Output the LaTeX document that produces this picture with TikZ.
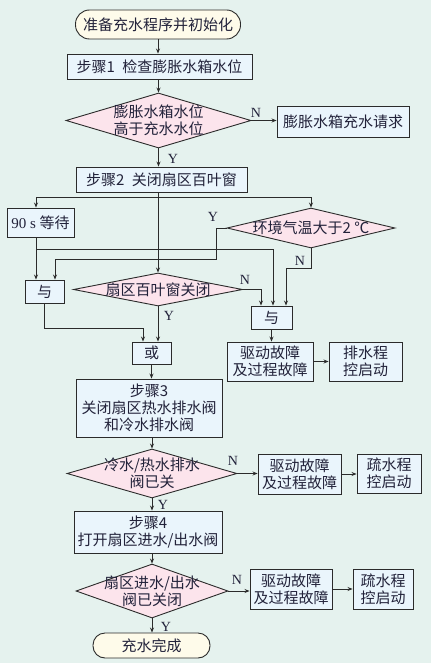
\documentclass[tikz,border=0pt]{standalone}
\usepackage{fontspec}
\setmainfont{Liberation Serif}
\newfontfamily\cjk{Noto Sans CJK SC}
\usetikzlibrary{arrows.meta,shapes.geometric}
\definecolor{pagebg}{HTML}{E5F2EE}
\definecolor{boxbg}{HTML}{EAF5FC}
\definecolor{diabg}{HTML}{FCE4EC}
\definecolor{termbg}{HTML}{FEFBEA}
\definecolor{inkline}{HTML}{2B2B2B}
\definecolor{inktext}{HTML}{22223A}

\begin{document}
\begin{tikzpicture}[x=1pt,y=-1pt,
      box/.style={draw=inkline,fill=boxbg,line width=0.9pt,inner sep=0pt,align=center,
                  text=inktext,font=\cjk\fontsize{15}{17}\selectfont},
      dia/.style={diamond,draw=inkline,fill=diabg,line width=0.9pt,inner sep=0pt},
      txt/.style={align=center,text=inktext,font=\cjk\fontsize{15}{17}\selectfont},
      term/.style={draw=inkline,fill=termbg,line width=0.9pt,inner sep=0pt,
                   text=inktext,font=\cjk\fontsize{15}{17}\selectfont},
      yn/.style={text=inktext,font=\fontsize{14}{14}\selectfont},
      arr/.style={draw=inkline,line width=0.8pt,-{Stealth[length=5pt,width=4pt]}},
      lin/.style={draw=inkline,line width=0.8pt}]
    \fill[pagebg] (0,0) rectangle (431,663);
    \useasboundingbox (0,0) rectangle (431,663);
    % upper part
    \node[term,rounded corners=14pt,minimum width=165,minimum height=29] (start) at (158,24.5) {准备充水程序并初始化};
    \node[box,minimum width=185,minimum height=25] (s1) at (159.5,66.5) {步骤1\enspace 检查膨胀水箱水位};
    \node[dia,minimum width=185,minimum height=55] (d1) at (158.5,120.5) {};
    \node[txt] (d1t) at (d1) {膨胀水箱水位\\高于充水水位};
    \node[box,minimum width=132,minimum height=31] (req) at (343,121.5) {膨胀水箱充水请求};
    \node[box,minimum width=171,minimum height=25] (s2) at (161.5,179.5) {步骤2\enspace 关闭扇区百叶窗};
    % louver check
    \node[box,minimum width=67,minimum height=29] (wait) at (40.5,222.5) {{\rmfamily 90 s }等待};
    \node[dia,minimum width=168,minimum height=40] (d2) at (311,228) {};
    \node[txt] (d2t) at (d2) {环境气温大于2 ℃};
    \node[box,minimum width=39,minimum height=23] (and1) at (44.5,291.5) {与};
    \node[dia,minimum width=169,minimum height=33] (d5) at (158,289.5) {};
    \node[txt] (d5t) at (d5) {扇区百叶窗关闭};
    \node[box,minimum width=41,minimum height=23] (and2) at (271.5,317.5) {与};
    \node[box,minimum width=39,minimum height=22] (or) at (151.5,353) {或};
    \node[box,minimum width=86,minimum height=39] (f1) at (270,361.5) {驱动故障\\及过程故障};
    \node[box,minimum width=73,minimum height=39] (p1) at (365.5,361.5) {排水程\\控启动};
    % lower part
    \node[box,minimum width=146,minimum height=58] (s3) at (149,408) {步骤3\\关闭扇区热水排水阀\\和冷水排水阀};
    \node[dia,minimum width=170,minimum height=49] (d3) at (152,473.5) {};
    \node[txt] (d3t) at (d3) {冷水/热水排水\\阀已关};
    \node[box,minimum width=83,minimum height=40] (f2) at (299.5,474) {驱动故障\\及过程故障};
    \node[box,minimum width=64,minimum height=39] (p2) at (389,473.5) {疏水程\\控启动};
    \node[box,minimum width=148,minimum height=42] (s4) at (148,532) {步骤4\\打开扇区进水/出水阀};
    \node[dia,minimum width=152,minimum height=54] (d4) at (152,591) {};
    \node[txt] (d4t) at (d4) {扇区进水/出水\\阀已关闭};
    \node[box,minimum width=82,minimum height=40] (f3) at (291,589) {驱动故障\\及过程故障};
    \node[box,minimum width=60,minimum height=40] (p3) at (383,589) {疏水程\\控启动};
    \node[term,rounded corners=12pt,minimum width=117,minimum height=25] (end) at (151.5,645.5) {充水完成};
    % Y / N marks
    \foreach \m/\x/\y/\t in {n1/256/113/N,y1/173/159/Y,y2/213/217/Y,n2/300/261/N,n3/245/280/N,
                             y3/169/316/Y,n4/233/461/N,y4/163/505/Y,n5/237/580/N,y5/166/627/Y}
      \node[yn] (\m) at (\x,\y) {\t};
    % connectors
    \coordinate (fork) at (158,197);
    \coordinate (ybend) at (216,259);
    \coordinate (wb) at (36,249);
    \coordinate (nb) at (286,268);
    \coordinate (ab) at (143,328);
    \draw[arr] (start.south) -- (start.south |- s1.north);
    \draw[arr] (d1.north |- s1.south) -- (d1.north);
    \draw[arr] (d1.east) -- (d1.east -| req.west);
    \draw[arr] (d1.south) -- (d1.south |- s2.north);
    \draw[arr] (d5.north |- s2.south) -- (d5.north);
    \draw[arr] (fork) -| ([xshift=-4.5pt]wait.north);
    \draw[arr] (fork) -| (d2.north);
    \draw[arr] (d2.west) -| (ybend) -| ([xshift=10.5pt]and1.north);
    \draw[arr] ([xshift=-4.5pt]wait.south) -- ([xshift=-8.5pt]and1.north);
    \draw[arr] (wb) -| ([xshift=1.5pt]and2.north);
    \draw[arr] (d2.south) |- (nb) -- ([xshift=14.5pt]and2.north);
    \draw[arr] (d5.east) -| ([xshift=-10.5pt]and2.north);
    \draw[arr] (d5.south) -- ([xshift=6.5pt]or.north);
    \draw[arr] (and1.south) |- (ab) -- ([xshift=-8.5pt]or.north);
    \draw[arr] (and2.south) -- (and2.south |- f1.north);
    \draw[arr] (or.south) -- (or.south |- s3.north);
    \draw[arr] (d3.north |- s3.south) -- (d3.north);
    \draw[arr] (d3.south) -- (d3.south |- s4.north);
    \draw[arr] (d4.north |- s4.south) -- (d4.north);
    \draw[arr] (d4.south) -- (d4.south |- end.north);
    \foreach \a/\b in {d3/f2,d4/f3,f1/p1,f2/p2,f3/p3}
      \draw[arr] (\a.east) -- (\a.east -| \b.west);
  \end{tikzpicture}
\end{document}
